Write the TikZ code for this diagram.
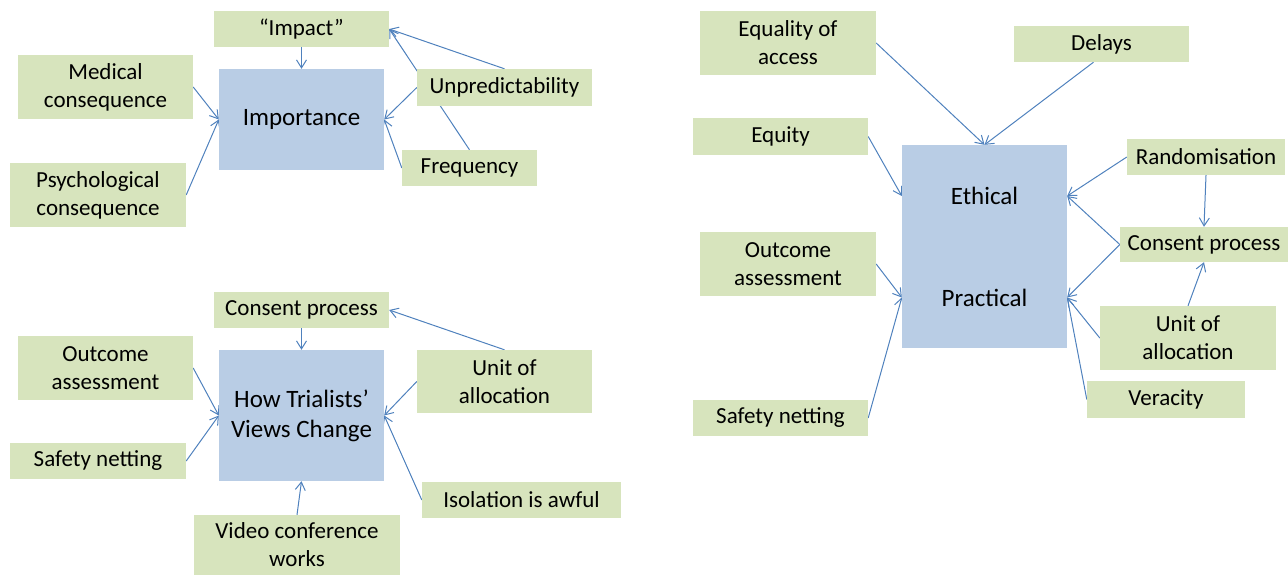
\documentclass[tikz,border=0pt]{standalone}
\usepackage{fontspec}
\setmainfont{Carlito}
\usetikzlibrary{arrows.meta,backgrounds}

\definecolor{factorgreen}{HTML}{D7E4BD}
\definecolor{themeblue}{HTML}{B9CDE5}
\definecolor{linkblue}{HTML}{4F81BD}

\tikzset{
    factor/.style={shape=rectangle,fill=factorgreen,inner sep=0pt,align=center,
        font=\fontsize{23}{28}\selectfont},
    theme/.style={shape=rectangle,fill=themeblue,inner sep=0pt,align=center,
        font=\fontsize{25}{30}\selectfont},
    link/.style={draw=linkblue,line width=1pt,-{Straight Barb[length=8pt,width=10pt]}}
}

\begin{document}
\begin{tikzpicture}[x=1pt,y=-1pt]
    \useasboundingbox (0,0) rectangle (1288,574);

    % importance
    \node[theme,minimum width=165,minimum height=101] (Imp) at (301.5,119.5) {Importance};
    \node[factor,minimum width=175,minimum height=36] (Impact) at (301.5,29) {“Impact”};
    \node[factor,minimum width=175,minimum height=64] (Med) at (105.5,87) {Medical\\consequence};
    \node[factor,minimum width=176,minimum height=64] (Psy) at (98,195) {Psychological\\consequence};
    \node[factor,minimum width=175,minimum height=37] (Unpred) at (504.5,87.5) {Unpredictability};
    \node[factor,minimum width=135,minimum height=36] (Freq) at (469.5,168) {Frequency};

    % how views change
    \node[theme,minimum width=165,minimum height=131] (How) at (301.5,415.5) {How Trialists’\\Views Change};
    \node[factor,minimum width=175,minimum height=36] (Cons) at (301.5,310) {Consent process};
    \node[factor,minimum width=175,minimum height=64] (Out) at (105.5,368) {Outcome\\assessment};
    \node[factor,minimum width=176,minimum height=36] (Safe) at (98,461) {Safety netting};
    \node[factor,minimum width=175,minimum height=63] (Unit) at (504.5,381.5) {Unit of\\allocation};
    \node[factor,minimum width=199,minimum height=36] (Iso) at (521.5,500) {Isolation is awful};
    \node[factor,minimum width=206,minimum height=60] (Video) at (297,545) {Video conference\\works};

    % ethical / practical
    \node[theme,minimum width=165,minimum height=102] (Eth) at (984.5,196) {Ethical};
    \node[theme,minimum width=165,minimum height=101] (Prac) at (984.5,297.5) {Practical};
    \node[factor,minimum width=176,minimum height=64] (Equal) at (788,43) {Equality of\\access};
    \node[factor,minimum width=175,minimum height=36] (Delay) at (1101.5,44) {Delays};
    \node[factor,minimum width=175,minimum height=37] (Equity) at (780.5,136.5) {Equity};
    \node[factor,minimum width=176,minimum height=64] (OutR) at (788,264) {Outcome\\assessment};
    \node[factor,minimum width=175,minimum height=36] (SafeR) at (780.5,418) {Safety netting};
    \node[factor,minimum width=158,minimum height=36] (Rand) at (1206,157) {Randomisation};
    \node[factor,minimum width=168,minimum height=35] (ConsR) at (1204,244.5) {Consent process};
    \node[factor,minimum width=176,minimum height=64] (UnitR) at (1188,338) {Unit of\\allocation};
    \node[factor,minimum width=158,minimum height=37] (Ver) at (1166,399.5) {Veracity};

    \begin{scope}[on background layer]
    \draw[link] (Impact) -- (Imp);
    \draw[link] (Med.east) -- (Imp.west);
    \draw[link] (Psy.east) -- (Imp.west);
    \draw[link] (Unpred.west) -- (Imp.east);
    \draw[link] (Freq.west) -- (Imp.east);
    \draw[link] (Unpred.north) -- (Impact.east);
    \draw[link] (Freq.north) -- (Impact.east);

    \draw[link] (Cons) -- (How);
    \draw[link] (Out.east) -- (How.west);
    \draw[link] (Safe.east) -- (How.west);
    \draw[link] (Unit.west) -- (How.east);
    \draw[link] (Iso.west) -- (How.east);
    \draw[link] (Unit.north) -- (Cons.east);
    \draw[link] (Video.north) -- (How.south);

    \draw[link] (Equal.east) -- (Eth.north);
    \draw[link] ([xshift=-8]Delay.south) -- (Eth.north);
    \draw[link] (Equity.east) -- (Eth.west);
    \draw[link] (Rand.west) -- (Eth.east);
    \draw[link] (ConsR.west) -- (Eth.east);
    \draw[link] (ConsR.west) -- (Prac.east);
    \draw[link] (Rand.south) -- (ConsR.north);
    \draw[link] (UnitR.north) -- (ConsR.south);
    \draw[link] (UnitR.west) -- (Prac.east);
    \draw[link] (Ver.west) -- (Prac.east);
    \draw[link] (OutR.east) -- (Prac.west);
    \draw[link] (SafeR.east) -- (Prac.west);
    \end{scope}
\end{tikzpicture}
\end{document}
